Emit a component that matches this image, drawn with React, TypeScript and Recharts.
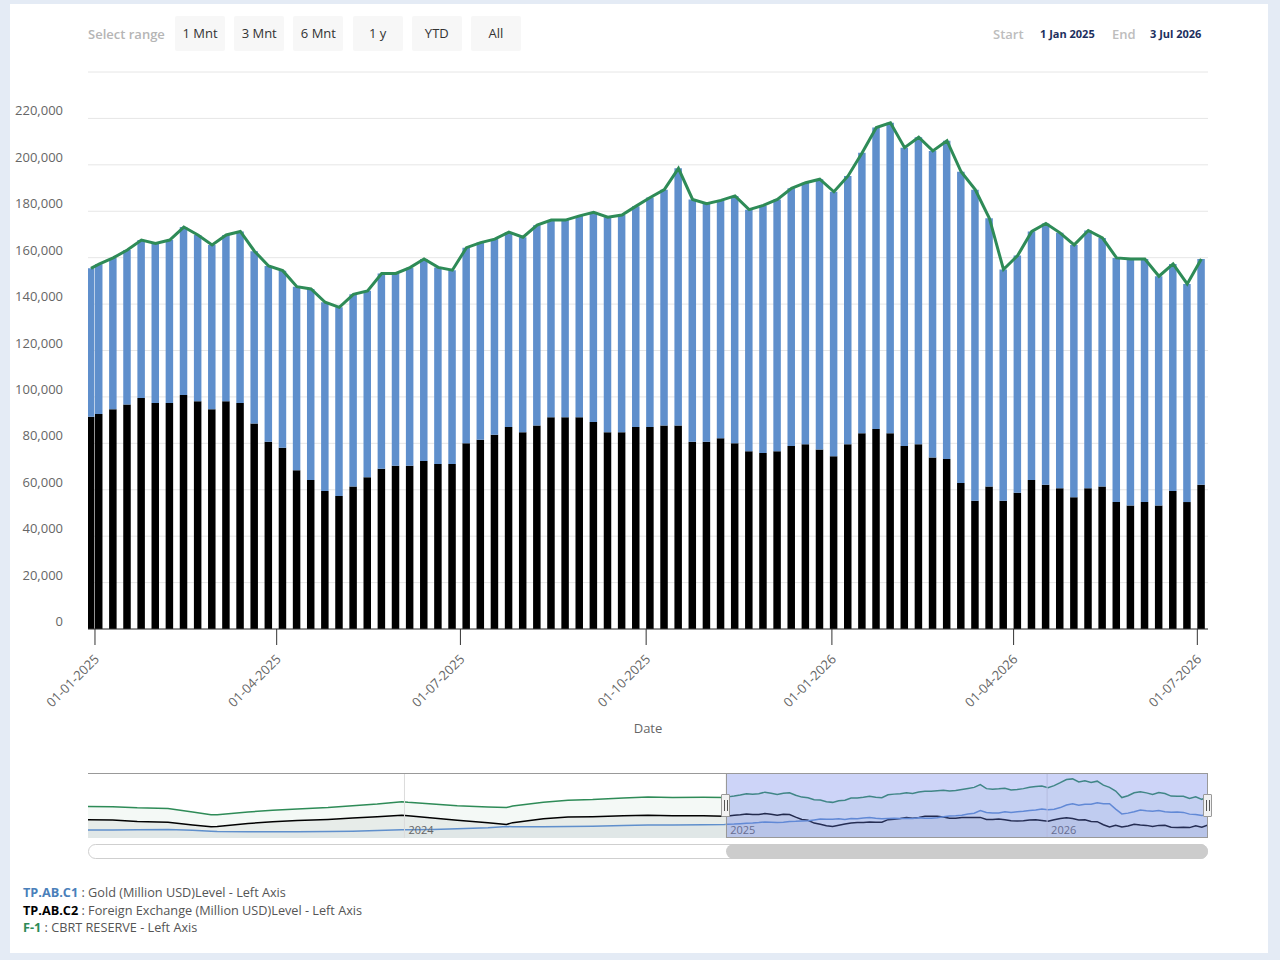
import React from 'react'
import { ComposedChart, Bar, Line, Area, XAxis, YAxis, CartesianGrid, ReferenceLine } from 'recharts'

// weekly reserve observations shown in the main panel
const weeks = [
  '2024-12-30',
  '2025-01-03', '2025-01-10', '2025-01-17', '2025-01-24', '2025-01-31',
  '2025-02-07', '2025-02-14', '2025-02-21', '2025-02-28',
  '2025-03-07', '2025-03-14', '2025-03-21', '2025-03-28',
  '2025-04-04', '2025-04-11', '2025-04-18', '2025-04-25',
  '2025-05-02', '2025-05-09', '2025-05-16', '2025-05-23', '2025-05-30',
  '2025-06-06', '2025-06-13', '2025-06-20', '2025-06-27',
  '2025-07-04', '2025-07-11', '2025-07-18', '2025-07-25',
  '2025-08-01', '2025-08-08', '2025-08-15', '2025-08-22', '2025-08-29',
  '2025-09-05', '2025-09-12', '2025-09-19', '2025-09-26',
  '2025-10-03', '2025-10-10', '2025-10-17', '2025-10-24', '2025-10-31',
  '2025-11-07', '2025-11-14', '2025-11-21', '2025-11-28',
  '2025-12-05', '2025-12-12', '2025-12-19', '2025-12-26',
  '2026-01-02', '2026-01-09', '2026-01-16', '2026-01-23', '2026-01-30',
  '2026-02-06', '2026-02-13', '2026-02-20', '2026-02-27',
  '2026-03-06', '2026-03-13', '2026-03-20', '2026-03-27',
  '2026-04-03', '2026-04-10', '2026-04-17', '2026-04-24',
  '2026-05-01', '2026-05-08', '2026-05-15', '2026-05-22', '2026-05-29',
  '2026-06-05', '2026-06-12', '2026-06-19', '2026-06-26',
  '2026-07-03',
]

// TP.AB.C2 foreign exchange, million USD
const fxLevels = [
  91500, 92600, 94700, 96700, 99500, 97400, 97400, 100800, 98100, 94700,
  98100, 97400, 88500, 80700, 78100, 68400, 64200, 59500, 57300, 61400,
  65400, 69100, 70300, 70300, 72400, 71100, 71100, 80000, 81500, 83700,
  87000, 84800, 87700, 91200, 91200, 91200, 89200, 84800, 84800, 87000,
  87000, 87700, 87700, 80700, 80700, 82200, 80000, 76600, 75800, 76600,
  78800, 79600, 77300, 74400, 79600, 84300, 86200, 84300, 78800, 79600,
  73900, 73300, 62900, 55300, 61400, 55300, 58700, 64200, 62200, 60700,
  56800, 60700, 61400, 54700, 53200, 54700, 53200, 59500, 54700, 62200,
]

// TP.AB.C1 gold, million USD
const goldLevels = [
  63900, 64600, 65200, 66600, 68100, 68700, 70200, 72400, 71700, 70800,
  71700, 73900, 74300, 75700, 76300, 79100, 82300, 81300, 81300, 82800,
  80300, 84100, 82900, 85400, 87000, 84700, 83500, 84300, 85000, 84300,
  84000, 84000, 86300, 85000, 85000, 86800, 90300, 92600, 93600, 95200,
  98900, 101600, 110800, 104400, 102600, 102500, 106600, 104100, 106700, 108500,
  111100, 112700, 116500, 114000, 115600, 120900, 129900, 133800, 128600, 132300,
  132100, 137100, 134100, 134000, 115600, 99600, 102200, 107100, 112500, 110000,
  108700, 111000, 107100, 105200, 106200, 104700, 98800, 97800, 94000, 97200,
]

// earlier history, only used by the navigator strip
const navDates = [
  '2023-01-06', '2023-02-03', '2023-03-03', '2023-04-07', '2023-05-05', '2023-05-26',
  '2023-06-02', '2023-07-07', '2023-08-04', '2023-09-01', '2023-10-06', '2023-11-03',
  '2023-12-01', '2023-12-29', '2024-01-05', '2024-02-02', '2024-03-01', '2024-04-05',
  '2024-04-26', '2024-05-03', '2024-06-07', '2024-07-05', '2024-08-02', '2024-09-06',
  '2024-10-04', '2024-11-01', '2024-12-06',
]
const navFx = [
  80000, 79000, 74000, 71000, 62000, 56000, 57000, 67000, 73000, 77000, 81000, 86000,
  90000, 95000, 93000, 86000, 78000, 70000, 64000, 70000, 83000, 89000, 90000, 93000,
  95000, 93000, 93000,
]
const navGold = [
  45000, 45000, 46000, 47000, 44000, 41000, 40000, 39000, 39000, 39000, 40000, 41000,
  43000, 46000, 46000, 47000, 49000, 53000, 57000, 56000, 56000, 57000, 58000, 60000,
  62000, 62000, 63000,
]

const xTickDates = ['2025-01-01', '2025-04-01', '2025-07-01', '2025-10-01', '2026-01-01', '2026-04-01', '2026-07-01']
const yTicks = [0, 20000, 40000, 60000, 80000, 100000, 120000, 140000, 160000, 180000, 200000, 220000, 240000]
const navYears = ['2024-01-01', '2025-01-01', '2026-01-01']
const rangeButtons = ['1 Mnt', '3 Mnt', '6 Mnt', '1 y', 'YTD', 'All']

const GOLD = '#5f8fcc'
const FX = '#000000'
const RESERVE = '#2e8b57'

const ms = (d: string) => Date.parse(d + 'T00:00:00Z')
const pad = (n: number) => String(n).padStart(2, '0')

const rows = weeks.map((w, i) => ({
  t: ms(w),
  fx: fxLevels[i],
  gold: goldLevels[i],
  reserve: fxLevels[i] + goldLevels[i],
}))

const navRows = [
  ...navDates.map((d, i) => ({ t: ms(d), fx: navFx[i], gold: navGold[i], reserve: navFx[i] + navGold[i] })),
  ...rows,
]

const xDomain = [Date.UTC(2024, 11, 28, 13), Date.UTC(2026, 6, 6, 7)]

// navigator geometry (plot spans 88..1208)
const NAV_LEFT = 88
const NAV_WIDTH = 1120
const navT0 = navRows[0].t
const navT1 = navRows[navRows.length - 1].t
const navX = (t: number) => NAV_LEFT + ((t - navT0) / (navT1 - navT0)) * NAV_WIDTH
const selLeft = navX(ms('2025-01-01'))
const selRight = navX(navT1)

const DateTick = (props: any) => {
  const { x, y, payload } = props
  const d = new Date(payload.value)
  const label = `${pad(d.getUTCDate())}-${pad(d.getUTCMonth() + 1)}-${d.getUTCFullYear()}`
  const ax = x + 5
  const ay = y + 13
  return (
    <text x={ax} y={ay} textAnchor="end" fill="#666" fontSize={13} transform={`rotate(-45 ${ax} ${ay})`}>
      {label}
    </text>
  )
}

const ValueTick = (props: any) => {
  const { y, payload } = props
  if (payload.value === 240000) return <g />
  return (
    <text x={63} y={y - 8} textAnchor="end" dominantBaseline="central" fill="#666" fontSize={13}>
      {Number(payload.value).toLocaleString('en-US')}
    </text>
  )
}

const Handle = ({ left }: { left: number }) => (
  <div style={{
    position: 'absolute', left: left - 5, top: 794, width: 9, height: 23,
    background: '#f2f2f2', border: '1px solid #999', borderRadius: 1, boxSizing: 'border-box',
  }}>
    <div style={{ position: 'absolute', left: 2, top: 5, width: 1, height: 11, background: '#555' }} />
    <div style={{ position: 'absolute', left: 5, top: 5, width: 1, height: 11, background: '#555' }} />
  </div>
)

export default function App() {
  return (
    <div style={{
      position: 'absolute', left: 0, top: 0, width: 1280, height: 960,
      background: '#e4ebf5', fontFamily: '"Open Sans", sans-serif', overflow: 'hidden',
    }}>
      <div style={{ position: 'absolute', left: 10, top: 4, width: 1258, height: 949, background: '#fff' }} />

      {/* range selector */}
      <div style={{ position: 'absolute', left: 88, top: 24, fontSize: 13, fontWeight: 600, color: '#b5b5b5', lineHeight: '20px' }}>
        Select range
      </div>
      {rangeButtons.map((b, i) => (
        <div key={b} style={{
          position: 'absolute', left: 175 + i * 59.2, top: 16, width: 50, height: 35,
          background: '#f7f7f7', borderRadius: 2, fontSize: 13, color: '#333',
          lineHeight: '35px', textAlign: 'center',
        }}>{b}</div>
      ))}
      <div style={{ position: 'absolute', left: 993, top: 24, fontSize: 13, color: '#bdbdbd', lineHeight: '20px', fontWeight: 600 }}>Start</div>
      <div style={{ position: 'absolute', left: 1040, top: 24, fontSize: 11, color: '#1c2f5e', lineHeight: '20px', fontWeight: 700 }}>1 Jan 2025</div>
      <div style={{ position: 'absolute', left: 1112, top: 24, fontSize: 13, color: '#bdbdbd', lineHeight: '20px', fontWeight: 600 }}>End</div>
      <div style={{ position: 'absolute', left: 1150, top: 24, fontSize: 11, color: '#1c2f5e', lineHeight: '20px', fontWeight: 700 }}>3 Jul 2026</div>

      {/* main stacked reserve chart */}
      <div style={{ position: 'absolute', left: 0, top: 0 }}>
        <ComposedChart width={1280} height={745} data={rows} margin={{ top: 72, right: 72, bottom: 0, left: 8 }}>
          <CartesianGrid vertical={false} stroke="#e6e6e6" />
          <XAxis
            dataKey="t"
            type="number"
            domain={xDomain}
            allowDataOverflow
            ticks={xTickDates.map(ms)}
            tick={<DateTick />}
            tickSize={16}
            stroke="#333"
            height={116}
            interval={0}
          />
          <YAxis
            type="number"
            domain={[0, 240000]}
            ticks={yTicks}
            tick={<ValueTick />}
            axisLine={false}
            tickLine={false}
            width={80}
            interval={0}
          />
          <Bar dataKey="fx" stackId="res" fill={FX} barSize={7.5} isAnimationActive={false} />
          <Bar dataKey="gold" stackId="res" fill={GOLD} barSize={7.5} isAnimationActive={false} />
          <Line dataKey="reserve" type="linear" stroke={RESERVE} strokeWidth={3} dot={false} isAnimationActive={false} />
        </ComposedChart>
      </div>
      <div style={{ position: 'absolute', left: 548, top: 719, width: 200, textAlign: 'center', fontSize: 13, color: '#666', lineHeight: '18px' }}>
        Date
      </div>

      {/* navigator */}
      <div style={{ position: 'absolute', left: NAV_LEFT, top: 773 }}>
        <ComposedChart width={NAV_WIDTH} height={65} data={navRows} margin={{ top: 0, right: 0, bottom: 0, left: 0 }}>
          <XAxis dataKey="t" type="number" domain={['dataMin', 'dataMax']} hide />
          <YAxis type="number" domain={[18000, 238000]} hide />
          {navYears.map(y => (
            <ReferenceLine
              key={y}
              x={ms(y)}
              stroke="#dcdcdc"
              label={{ value: y.slice(0, 4), position: 'insideBottomLeft', fill: '#666', fontSize: 11, offset: 4 }}
            />
          ))}
          <Area dataKey="reserve" type="linear" stroke={RESERVE} strokeWidth={1.5} fill={RESERVE} fillOpacity={0.05} isAnimationActive={false} />
          <Area dataKey="fx" type="linear" stroke={FX} strokeWidth={1.5} fill={FX} fillOpacity={0.05} isAnimationActive={false} />
          <Area dataKey="gold" type="linear" stroke={GOLD} strokeWidth={1.5} fill={GOLD} fillOpacity={0.05} isAnimationActive={false} />
        </ComposedChart>
      </div>
      <div style={{ position: 'absolute', left: NAV_LEFT, top: 773, width: NAV_WIDTH, height: 1, background: '#999' }} />
      <div style={{
        position: 'absolute', left: selLeft, top: 773, width: selRight - selLeft, height: 65,
        background: 'rgba(102,123,235,0.33)', border: '1px solid #999', boxSizing: 'border-box',
      }} />
      <Handle left={selLeft} />
      <Handle left={selRight} />

      {/* scrollbar */}
      <div style={{
        position: 'absolute', left: NAV_LEFT, top: 844, width: NAV_WIDTH, height: 15,
        border: '1px solid #cfcfcf', borderRadius: 8, background: '#fff', boxSizing: 'border-box',
      }} />
      <div style={{
        position: 'absolute', left: selLeft, top: 844, width: selRight - selLeft, height: 15,
        borderRadius: 8, background: '#cccccc',
      }} />

      {/* series legend */}
      <div style={{ position: 'absolute', left: 23, top: 884, fontSize: 12.7, lineHeight: '17.5px', color: '#555' }}>
        <div><b style={{ color: '#4a7fba' }}>TP.AB.C1</b> : Gold (Million USD)Level - Left Axis</div>
        <div><b style={{ color: '#000' }}>TP.AB.C2</b> : Foreign Exchange (Million USD)Level - Left Axis</div>
        <div><b style={{ color: RESERVE }}>F-1</b> : CBRT RESERVE - Left Axis</div>
      </div>
    </div>
  )
}
